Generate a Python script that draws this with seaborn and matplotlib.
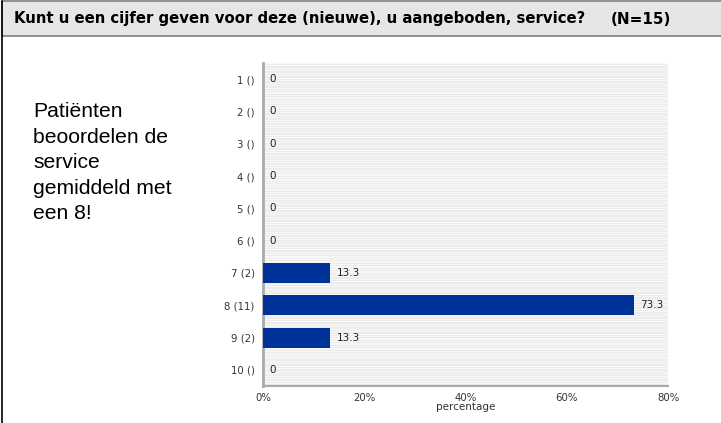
import matplotlib
matplotlib.use("Agg")
import matplotlib.pyplot as plt
import seaborn as sns
import pandas as pd
from matplotlib.patches import Rectangle
from matplotlib.lines import Line2D
from matplotlib.ticker import FuncFormatter

categories = ["1 ()", "2 ()", "3 ()", "4 ()", "5 ()", "6 ()", "7 (2)", "8 (11)", "9 (2)", "10 ()"]
percentages = [0, 0, 0, 0, 0, 0, 13.3, 73.3, 13.3, 0]
value_labels = ["0", "0", "0", "0", "0", "0", "13.3", "73.3", "13.3", "0"]
x_ticks = [0, 20, 40, 60, 80]
title = "Kunt u een cijfer geven voor deze (nieuwe), u aangeboden, service?"
title_n = "(N=15)"
side_text = "Patiënten\nbeoordelen de\nservice\ngemiddeld met\neen 8!"

df = pd.DataFrame({"category": categories, "percentage": percentages})

sns.set_style("white")
plt.rcParams["font.family"] = ["DejaVu Sans"]

W, H = 721, 423
fig = plt.figure(figsize=(W / 100, H / 100), dpi=100)

# title bar
fig.patches.append(Rectangle((2 / W, 1 - 36 / H), 1, 35 / H, transform=fig.transFigure,
                             facecolor="#e6e6e6", edgecolor="#7f7f7f", linewidth=1.2))
fig.lines.append(Line2D([1.5 / W, 1.5 / W], [0, 1 - 1 / H], transform=fig.transFigure,
                        color="black", linewidth=1.2))
fig.text(14 / W, 1 - 19 / H, title, fontsize=10.7, fontweight="bold", va="center", ha="left",
         color="black", family=["DejaVu Sans"])
fig.text(611 / W, 1 - 19 / H, title_n, fontsize=11, fontweight="bold", va="center", ha="left",
         color="black", family=["DejaVu Sans"])

fig.text(33 / W, 1 - 102 / H, side_text, fontsize=15.2, va="top", ha="left",
         family=["Liberation Sans"], linespacing=1.44, color="black")

ax = fig.add_axes([263 / W, 1 - 386 / H, 405 / W, 323 / H])
ax.set_facecolor("#ececec")
# striped background
for i in range(0, 130):
    ax.axhspan(-0.5 + i * 10 / 130 - 0.01, -0.5 + i * 10 / 130 + 0.025, color="white", lw=0, alpha=0.6, zorder=0)

sns.barplot(data=df, x="percentage", y="category", orient="h", color="#003399",
            saturation=1, width=0.62, linewidth=0, ax=ax, zorder=3)

for i, (v, lab) in enumerate(zip(percentages, value_labels)):
    ax.text(v + 1.2, i, lab, va="center", ha="left", fontsize=7.5, color="#222222", zorder=4)

ax.set_xlim(0, 80)
ax.set_ylim(9.5, -0.5)
ax.set_xticks(x_ticks)
ax.xaxis.set_major_formatter(FuncFormatter(lambda v, p: f"{int(v)}%"))
ax.set_xlabel("percentage", fontsize=7.5, color="#333333", labelpad=-1)
ax.set_ylabel("")
ax.tick_params(axis="both", labelsize=7.3, colors="#333333", length=3, width=0.8,
               direction="out", pad=2)
ax.tick_params(axis="y", color="#999999", pad=3)
ax.tick_params(axis="x", color="#999999")
ax.set_yticks(range(len(categories)))
ax.set_yticklabels(categories)
for s in ["top", "right"]:
    ax.spines[s].set_visible(False)
ax.spines["left"].set_color("#aaaaaa")
ax.spines["left"].set_linewidth(2)
ax.spines["bottom"].set_color("#aaaaaa")
ax.spines["bottom"].set_linewidth(1.5)

fig.savefig("out.png", dpi=100)
